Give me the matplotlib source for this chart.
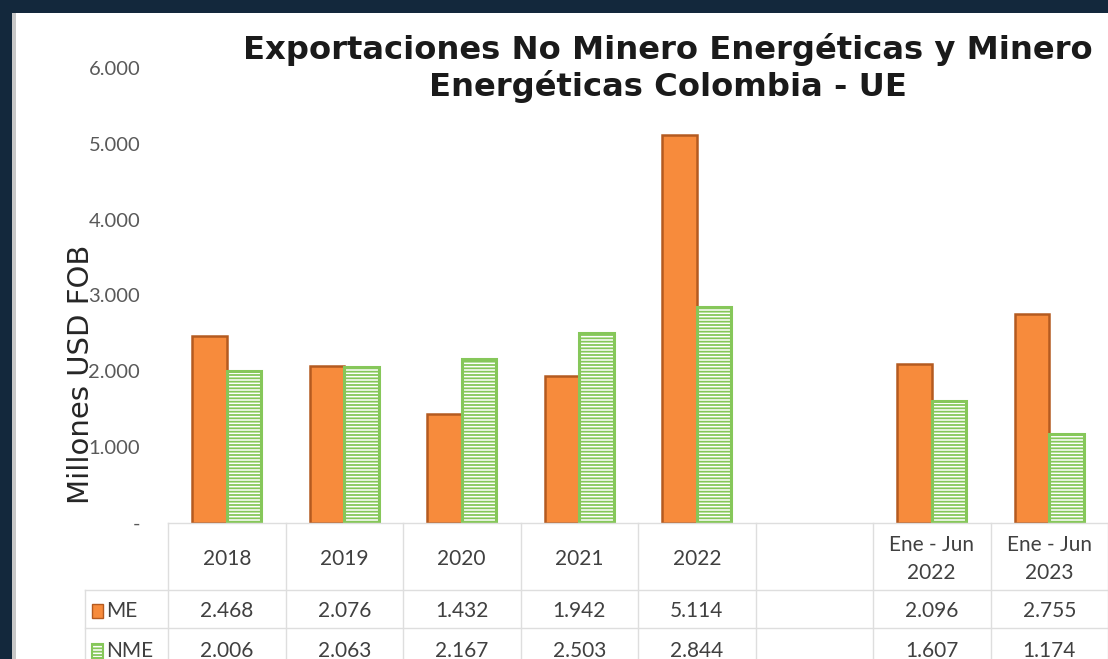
import matplotlib.pyplot as plt
from matplotlib.patches import Rectangle
from matplotlib.transforms import blended_transform_factory

# Datos (millones USD FOB)
periodos = ['2018', '2019', '2020', '2021', '2022', '', 'Ene - Jun\n2022', 'Ene - Jun\n2023']
me = [2468, 2076, 1432, 1942, 5114, None, 2096, 2755]
nme = [2006, 2063, 2167, 2503, 2844, None, 1607, 1174]
yticks = [0, 1000, 2000, 3000, 4000, 5000, 6000]
ytick_labels = ['-', '1.000', '2.000', '3.000', '4.000', '5.000', '6.000']

ORANGE = '#f78b3c'
ORANGE_EDGE = '#b45a20'
GREEN = '#86c75a'
TEXT = '#404040'
GRID = '#dedede'

plt.rcParams['hatch.linewidth'] = 1.3
plt.rcParams['hatch.color'] = GREEN

fig = plt.figure(figsize=(11.08, 6.59), dpi=100)
fig.patch.set_facecolor('#13283c')

W, H = 1108, 659
# white panel
fig.patches.append(Rectangle((12 / W, 0), 1.0, (H - 13) / H, transform=fig.transFigure,
                             facecolor='white', edgecolor='none', zorder=-5))
fig.patches.append(Rectangle((12 / W, 0), 4 / W, (H - 13) / H, transform=fig.transFigure,
                             facecolor='#c8c8c8', edgecolor='none', zorder=-5))

ax = fig.add_axes([168 / W, (H - 523) / H, 940 / W, (523 - 68) / H])
ax.set_facecolor('none')

x = range(len(periodos))
w = 0.295
for i in x:
    if me[i] is None:
        continue
    ax.bar(i - w / 2, me[i], width=w, color=ORANGE, edgecolor=ORANGE_EDGE, linewidth=1.8)
    ax.bar(i + w / 2, nme[i], width=w, color='white', edgecolor=GREEN, linewidth=2.2,
           hatch='-----')

ax.set_xlim(-0.5, len(periodos) - 0.5)
ax.set_ylim(0, 6000)
ax.set_yticks(yticks)
ax.set_yticklabels(ytick_labels, fontsize=14.5, color='#595959', family='Lato')
ax.tick_params(axis='y', length=0, pad=20)
ax.set_xticks([])
for s in ax.spines.values():
    s.set_visible(False)

# y label (overlaps the tick labels, as in the original)
fig.text(89 / W, 1 - 374 / H, 'Millones USD FOB', rotation=90, rotation_mode='anchor',
         ha='center', va='baseline', fontsize=21, color='#262626')

# data table under the plot
tr = blended_transform_factory(ax.transData, ax.transAxes)
px = 1 / 455
row_y = [0, -67 * px, -105 * px, -143 * px]
x_left_legend = -0.5 - 83 / 117.5
for yy in row_y[:1]:
    ax.plot([-0.5, 7.5], [yy, yy], color=GRID, lw=1, transform=tr, clip_on=False)
for yy in row_y[1:]:
    ax.plot([x_left_legend, 7.5], [yy, yy], color=GRID, lw=1, transform=tr, clip_on=False)
for k in range(len(periodos) + 1):
    ax.plot([k - 0.5, k - 0.5], [0, row_y[-1]], color=GRID, lw=1, transform=tr, clip_on=False)
ax.plot([x_left_legend, x_left_legend], [row_y[1], row_y[-1]], color=GRID, lw=1,
        transform=tr, clip_on=False)

for i, p in enumerate(periodos):
    ax.text(i, -36 * px, p, transform=tr, ha='center', va='center', fontsize=15,
            color=TEXT, family='Lato', linespacing=1.5)
    if me[i] is not None:
        ax.text(i, -88 * px, f'{me[i]:,}'.replace(',', '.'), transform=tr, ha='center',
                va='center', fontsize=15, color=TEXT, family='Lato')
        ax.text(i, -128 * px, f'{nme[i]:,}'.replace(',', '.'), transform=tr, ha='center',
                va='center', fontsize=15, color=TEXT, family='Lato')

# legend keys in the table
ta = ax.transAxes
ax.add_patch(Rectangle((-76 / 940, -95 * px), 11 / 940, 14 * px, transform=ta,
                       facecolor=ORANGE, edgecolor=ORANGE_EDGE, lw=1, clip_on=False))
ax.add_patch(Rectangle((-76 / 940, -135 * px), 11 / 940, 14 * px, transform=ta,
                       facecolor='white', edgecolor=GREEN, lw=1.5, hatch='-----',
                       clip_on=False))
ax.text(-62 / 940, -88 * px, 'ME', transform=ta, ha='left', va='center', fontsize=15,
        color=TEXT, family='Lato')
ax.text(-62 / 940, -128 * px, 'NME', transform=ta, ha='left', va='center', fontsize=15,
        color=TEXT, family='Lato')

fig.text(668 / W, 1 - 68 / H, 'Exportaciones No Minero Energéticas y Minero\nEnergéticas Colombia - UE',
         ha='center', va='center', fontsize=23.2, fontweight='bold', color='#1a1a1a',
         linespacing=1.12)

fig.savefig('out.png', dpi=100, facecolor=fig.get_facecolor())
